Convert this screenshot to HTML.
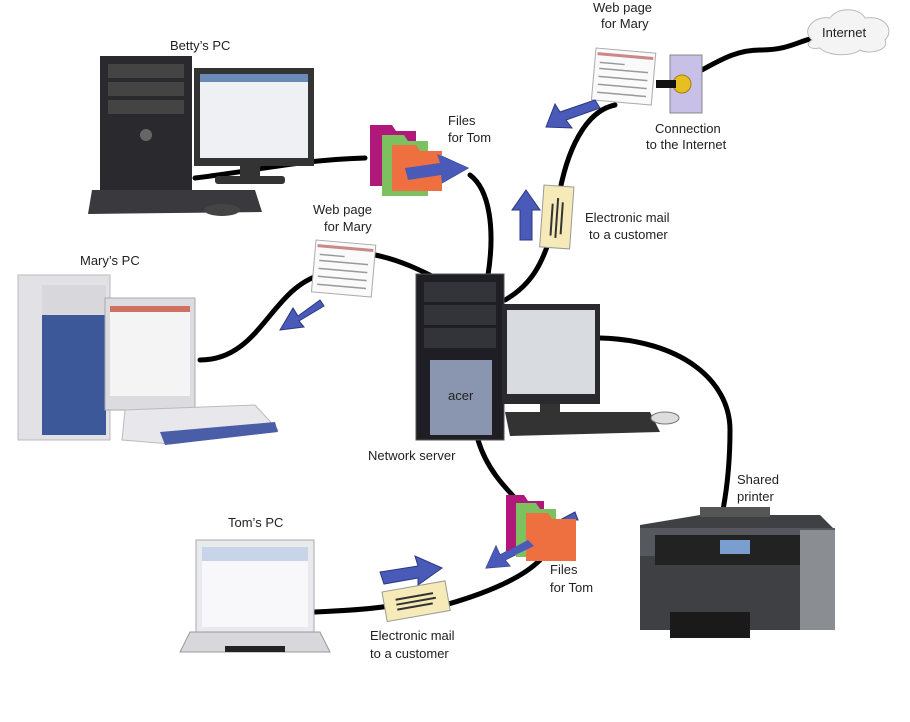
<!DOCTYPE html>
<html><head><meta charset="utf-8"><style>
html,body{margin:0;padding:0;background:#fff}
svg{display:block}
text{font-family:"Liberation Sans",sans-serif;font-size:13px;fill:#222}
</style></head><body>
<svg width="910" height="722" viewBox="0 0 910 722" xmlns="http://www.w3.org/2000/svg">
<!-- cables -->
<g fill="none" stroke="#000" stroke-width="5" stroke-linecap="round">
<path d="M195 178 C260 170 300 160 365 158"/>
<path d="M470 175 C490 190 495 230 488 275"/>
<path d="M375 255 C400 260 420 270 440 280"/>
<path d="M320 275 C270 290 260 360 200 360"/>
<path d="M505 300 C540 280 545 250 555 225"/>
<path d="M560 190 C570 140 590 110 615 105"/>
<path d="M660 85 C700 80 720 50 760 50 C790 50 800 40 815 38"/>
<path d="M600 338 C680 340 730 380 730 430 C730 470 725 500 722 515"/>
<path d="M478 440 C490 480 520 500 535 520"/>
<path d="M315 612 C360 610 380 608 395 605"/>
<path d="M445 605 C480 595 520 580 540 560"/>
</g>
<!-- Internet cloud -->
<path d="M812 40 C800 30 815 15 830 18 C838 6 860 8 865 18 C885 15 895 30 885 40 C890 50 870 55 860 50 C850 58 825 55 820 48 C808 50 805 44 812 40Z" fill="#f4f4f4" stroke="#bbb"/>
<text x="822" y="37" font-size="12">Internet</text>
<!-- connection plug -->
<rect x="670" y="55" width="32" height="58" fill="#c8c0e6" stroke="#888"/>
<circle cx="682" cy="84" r="9" fill="#e6c020" stroke="#a08010"/>
<rect x="656" y="80" width="20" height="8" fill="#111"/>
<!-- webpage top -->
<g transform="translate(596,48) rotate(5)"><rect width="60" height="52" fill="#fafafa" stroke="#aaa"/><rect x="2" y="4" width="56" height="3" fill="#c88"/><g stroke="#999" stroke-width="1.5"><line x1="5" y1="14" x2="30" y2="14"/><line x1="5" y1="20" x2="54" y2="20"/><line x1="5" y1="28" x2="54" y2="28"/><line x1="5" y1="36" x2="54" y2="36"/><line x1="5" y1="44" x2="54" y2="44"/></g></g>
<!-- blue arrows -->
<g fill="#4a5ab8" stroke="#2c3880" stroke-width="1">
<polygon points="595,100 560,112 555,104 546,127 572,128 566,120 600,108"/>
<polygon points="520,240 532,240 532,210 540,210 526,190 512,210 520,210"/>
<polygon points="320,300 298,316 293,308 280,330 304,327 299,321 324,306"/>
<polygon points="405,168 440,163 437,154 468,168 442,183 441,175 408,180"/>
<polygon points="380,572 418,566 415,556 442,568 418,585 418,578 384,584"/>
<polygon points="528,540 500,555 496,546 486,568 510,566 505,560 534,546"/>
<polygon points="560,520 575,512 578,520"/>
</g>
<!-- folders top -->
<g><path d="M370 125 h22 l4 6 h20 v55 h-46z" fill="#b0187a"/><path d="M382 135 h22 l4 6 h20 v55 h-46z" fill="#7cc060"/><path d="M392 145 h24 l4 6 h22 v40 h-50z" fill="#ee7040"/></g>
<polygon points="405,168 440,163 437,154 468,168 442,183 441,175 408,180" fill="#4a5ab8"/>
<!-- folders bottom -->
<g><path d="M506 495 h18 l4 6 h16 v50 h-38z" fill="#b0187a"/><path d="M516 503 h20 l4 6 h16 v48 h-40z" fill="#7cc060"/><path d="M526 513 h22 l4 6 h24 v42 h-50z" fill="#ee7040"/></g>
<polygon points="528,540 500,555 496,546 486,568 510,566 505,560 534,546" fill="#4a5ab8"/>
<!-- envelope vertical -->
<g transform="translate(544,185) rotate(4)"><rect width="30" height="62" fill="#f5eab8" stroke="#999"/><g stroke="#333" stroke-width="2"><line x1="10" y1="18" x2="10" y2="50"/><line x1="15" y1="12" x2="15" y2="52"/><line x1="20" y1="16" x2="20" y2="48"/></g></g>
<!-- envelope bottom -->
<g transform="translate(382,592) rotate(-10)"><rect width="64" height="30" fill="#f5eab8" stroke="#999"/><g stroke="#333" stroke-width="2"><line x1="12" y1="10" x2="50" y2="10"/><line x1="12" y1="15" x2="52" y2="15"/><line x1="12" y1="20" x2="48" y2="20"/></g></g>
<!-- webpage middle -->
<g transform="translate(316,240) rotate(5)"><rect width="60" height="52" fill="#fafafa" stroke="#aaa"/><rect x="2" y="4" width="56" height="3" fill="#c88"/><g stroke="#999" stroke-width="1.5"><line x1="5" y1="14" x2="30" y2="14"/><line x1="5" y1="20" x2="54" y2="20"/><line x1="5" y1="28" x2="54" y2="28"/><line x1="5" y1="36" x2="54" y2="36"/><line x1="5" y1="44" x2="54" y2="44"/></g></g>
<!-- Betty's PC -->
<rect x="100" y="56" width="92" height="134" fill="#2a2a2e"/>
<rect x="108" y="64" width="76" height="14" fill="#444"/><rect x="108" y="82" width="76" height="14" fill="#444"/><rect x="108" y="100" width="76" height="14" fill="#444"/>
<circle cx="146" cy="135" r="6" fill="#666"/>
<rect x="194" y="68" width="120" height="98" fill="#333"/><rect x="200" y="74" width="108" height="84" fill="#eef0f4"/>
<rect x="200" y="74" width="108" height="8" fill="#6a8ab8"/>
<rect x="240" y="166" width="20" height="12" fill="#333"/><rect x="215" y="176" width="70" height="8" rx="3" fill="#333"/>
<path d="M92 190 L255 190 L262 212 L88 214Z" fill="#3a3a3e"/>
<ellipse cx="222" cy="210" rx="18" ry="6" fill="#444"/>
<text x="170" y="50">Betty’s PC</text>
<!-- Mary's PC -->
<rect x="18" y="275" width="92" height="165" fill="#e2e2e6" stroke="#bbb"/>
<rect x="42" y="285" width="64" height="150" fill="#3c5898"/>
<rect x="42" y="285" width="64" height="30" fill="#d8d8dc"/>
<rect x="105" y="298" width="90" height="112" fill="#dcdce0" stroke="#aaa"/><rect x="110" y="306" width="80" height="90" fill="#f4f4f4"/>
<rect x="110" y="306" width="80" height="6" fill="#d07060"/>
<path d="M125 410 L255 405 L278 430 L170 444 L122 440Z" fill="#e8e8ec" stroke="#bbb"/>
<path d="M160 432 L275 422 L278 432 L165 445Z" fill="#4a5ea8"/>
<text x="80" y="265">Mary’s PC</text>
<!-- Network server -->
<rect x="416" y="274" width="88" height="166" fill="#1e1e24" stroke="#555"/>
<rect x="424" y="282" width="72" height="20" fill="#33333a"/><rect x="424" y="305" width="72" height="20" fill="#33333a"/><rect x="424" y="328" width="72" height="20" fill="#33333a"/>
<rect x="430" y="360" width="62" height="75" fill="#8a96b0"/>
<text x="448" y="400" font-size="10" fill="#eee">acer</text>
<rect x="502" y="304" width="98" height="100" fill="#2a2a2e"/><rect x="507" y="310" width="88" height="84" fill="#d8dce0"/>
<rect x="540" y="404" width="20" height="10" fill="#333"/>
<path d="M505 412 L650 412 L660 432 L510 436Z" fill="#333"/>
<ellipse cx="665" cy="418" rx="14" ry="6" fill="#ddd" stroke="#777"/>
<text x="368" y="460">Network server</text>
<!-- Tom's PC laptop -->
<rect x="196" y="540" width="118" height="92" fill="#e8eaee" stroke="#aaa"/>
<rect x="202" y="547" width="106" height="80" fill="#f8f8fa"/>
<rect x="202" y="547" width="106" height="14" fill="#c8d4e8"/>
<path d="M190 632 L320 632 L330 652 L180 652Z" fill="#d8d8dc" stroke="#999"/>
<rect x="225" y="646" width="60" height="6" fill="#222"/>
<text x="228" y="527">Tom’s PC</text>
<!-- Printer -->
<path d="M640 525 L700 515 L820 515 L835 530 L835 630 L640 630Z" fill="#3e4044"/>
<rect x="640" y="528" width="195" height="28" fill="#55585c"/>
<rect x="655" y="535" width="160" height="30" fill="#222"/>
<rect x="720" y="540" width="30" height="14" fill="#7a9ed0"/>
<rect x="800" y="530" width="35" height="100" fill="#8a8e92"/>
<rect x="670" y="612" width="80" height="26" fill="#1a1a1a"/>
<rect x="700" y="507" width="70" height="10" fill="#555"/>
<text x="737" y="484">Shared</text><text x="737" y="501">printer</text>
<!-- labels -->
<text x="593" y="12">Web page</text><text x="601" y="28">for Mary</text>
<text x="655" y="133">Connection</text><text x="646" y="149">to the Internet</text>
<text x="448" y="125">Files</text><text x="448" y="142">for Tom</text>
<text x="585" y="222">Electronic mail</text><text x="589" y="239">to a customer</text>
<text x="313" y="214">Web page</text><text x="324" y="231">for Mary</text>
<text x="550" y="574">Files</text><text x="550" y="592">for Tom</text>
<text x="370" y="640">Electronic mail</text><text x="370" y="658">to a customer</text>
</svg>
</body></html>
